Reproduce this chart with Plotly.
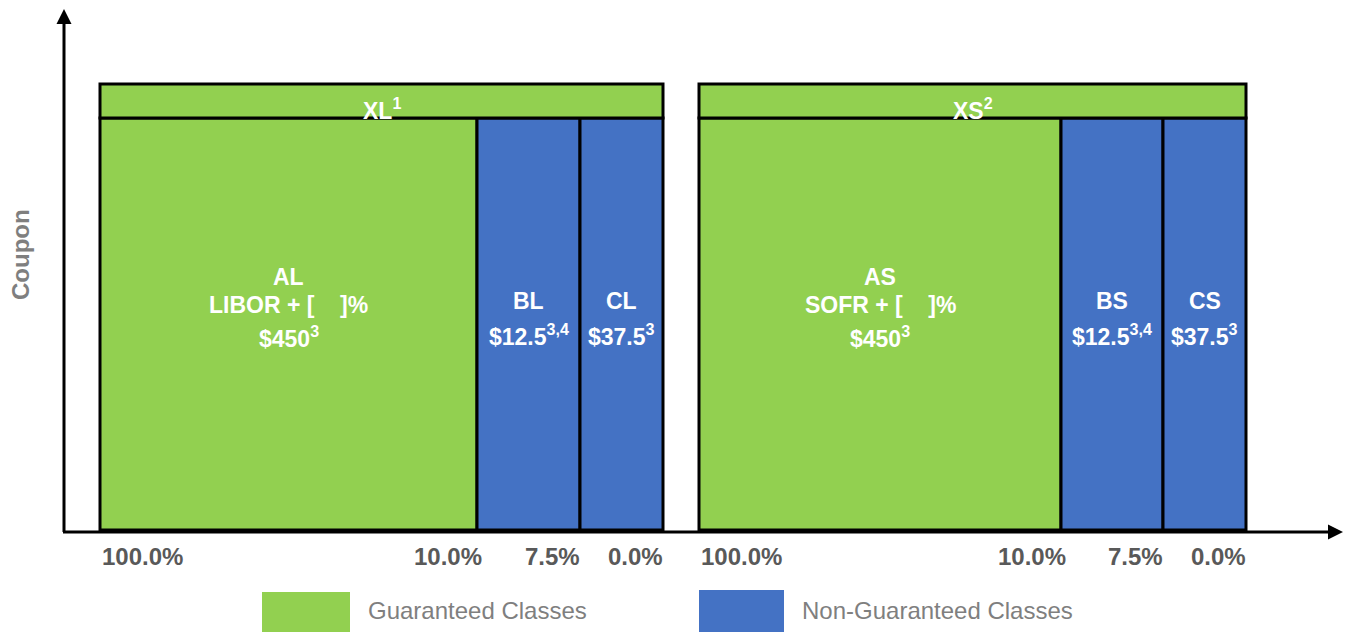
import plotly.graph_objects as go

# ---------------- data ----------------
groups = ["XL", "XS"]
group_labels = ["XL<sup>1</sup>", "XS<sup>2</sup>"]
group_starts = [100, 699]                       # left edge of each stack (px-like units)
class_names = [["AL", "BL", "CL"], ["AS", "BS", "CS"]]
class_coupons = [["LIBOR + [    ]%", "", ""], ["SOFR + [    ]%", "", ""]]
class_amounts = [["$450<sup>3</sup>", "$12.5<sup>3,4</sup>", "$37.5<sup>3</sup>"],
                 ["$450<sup>3</sup>", "$12.5<sup>3,4</sup>", "$37.5<sup>3</sup>"]]
class_widths = [[377, 103, 83], [362, 102, 83]]  # drawn widths (not to scale)
class_guaranteed = [[True, False, False], [True, False, False]]
tick_labels = ["100.0%", "10.0%", "7.5%", "0.0%"]
body_height = 412
strip_height = 34
legend_labels = ["Guaranteed Classes", "Non-Guaranteed Classes"]

GREEN = "#92D050"
BLUE = "#4472C4"
FONT = "Liberation Sans"

fig = go.Figure()

# bars for classes
base0 = 2
gx, gw, bx, bw = [], [], [], []
for gi, start in enumerate(group_starts):
    left = start
    for ci, w in enumerate(class_widths[gi]):
        if class_guaranteed[gi][ci]:
            gx.append(left + w / 2); gw.append(w)
        else:
            bx.append(left + w / 2); bw.append(w)
        left += w

fig.add_trace(go.Bar(x=gx, y=[body_height] * len(gx), width=gw, base=base0,
                     marker=dict(color=GREEN, line=dict(color="black", width=3)),
                     showlegend=False, hoverinfo="skip"))
fig.add_trace(go.Bar(x=bx, y=[body_height] * len(bx), width=bw, base=base0,
                     marker=dict(color=BLUE, line=dict(color="black", width=3)),
                     showlegend=False, hoverinfo="skip"))
# strips XL / XS
sx = [s + sum(w) / 2 for s, w in zip(group_starts, class_widths)]
sw = [sum(w) for w in class_widths]
fig.add_trace(go.Bar(x=sx, y=[strip_height] * 2, width=sw, base=base0 + body_height,
                     marker=dict(color=GREEN, line=dict(color="black", width=3)),
                     showlegend=False, hoverinfo="skip"))

ann = []
# group labels
for gi in range(2):
    ann.append(dict(x=sx[gi], y=base0 + body_height + 9, text=f"<b>{group_labels[gi]}</b>",
                    showarrow=False, font=dict(family=FONT, size=23, color="white"),
                    xanchor="center", yanchor="middle"))
# class labels
for gi, start in enumerate(group_starts):
    left = start
    for ci, w in enumerate(class_widths[gi]):
        cx = left + w / 2
        if class_coupons[gi][ci]:
            ys = [255, 227, 195]
            lines = [class_names[gi][ci], class_coupons[gi][ci], class_amounts[gi][ci]]
        else:
            ys = [231, 197]
            lines = [class_names[gi][ci], class_amounts[gi][ci]]
        for yy, t in zip(ys, lines):
            ann.append(dict(x=cx, y=yy, text=f"<b>{t}</b>", showarrow=False,
                            font=dict(family=FONT, size=23, color="white"),
                            xanchor="center", yanchor="middle"))
        left += w
# tick labels
tick_shift = [0, 7, 2, 2]
for gi, start in enumerate(group_starts):
    edges = [start]
    for w in class_widths[gi]:
        edges.append(edges[-1] + w)
    for k, lab in enumerate(tick_labels):
        ann.append(dict(x=edges[k] + tick_shift[k], y=-24, text=f"<b>{lab}</b>", showarrow=False,
                        font=dict(family=FONT, size=24, color="#595959"),
                        xanchor="left" if k == 0 else "right", yanchor="middle"))

# axis label
ann.append(dict(x=20, y=277, text="<b>Coupon</b>", showarrow=False, textangle=-90,
                font=dict(family=FONT, size=24, color="#7F7F7F"),
                xanchor="center", yanchor="middle"))

# legend
leg_colors = [GREEN, BLUE]
leg_box_x = [262, 699]
leg_box_w = [88, 85]
shapes = []
for i in range(2):
    shapes.append(dict(type="rect", xref="x", yref="y", x0=leg_box_x[i], x1=leg_box_x[i] + leg_box_w[i],
                       y0=-100, y1=-60 + (2 if i else 0), fillcolor=leg_colors[i], line=dict(width=0),
                       layer="above"))
    ann.append(dict(x=leg_box_x[i] + leg_box_w[i] + 16, y=-78, text=legend_labels[i], showarrow=False,
                    font=dict(family=FONT, size=24, color="#7F7F7F"),
                    xanchor="left", yanchor="middle"))

# axes with arrows
fig.add_trace(go.Scatter(x=[64, 64], y=[0, 515], mode="lines",
                         line=dict(color="black", width=3), showlegend=False, hoverinfo="skip"))
fig.add_trace(go.Scatter(x=[63, 1335], y=[0, 0], mode="lines",
                         line=dict(color="black", width=3), showlegend=False, hoverinfo="skip"))
fig.add_trace(go.Scatter(x=[64], y=[523], mode="markers",
                         marker=dict(symbol="arrow-up", size=15, color="black", line=dict(width=0)),
                         showlegend=False, hoverinfo="skip"))
fig.add_trace(go.Scatter(x=[1343], y=[0], mode="markers",
                         marker=dict(symbol="arrow-right", size=15, color="black", line=dict(width=0)),
                         showlegend=False, hoverinfo="skip"))

fig.update_layout(
    width=1349, height=632,
    margin=dict(l=0, r=0, t=0, b=0),
    paper_bgcolor="white", plot_bgcolor="white",
    barmode="overlay",
    xaxis=dict(range=[0, 1349], visible=False, fixedrange=True),
    yaxis=dict(range=[-100, 532], visible=False, fixedrange=True),
    annotations=ann, shapes=shapes,
)
fig.write_html("out.html", config={"displayModeBar": False},
               post_script="document.body.style.margin='0';document.body.style.overflow='hidden';")
